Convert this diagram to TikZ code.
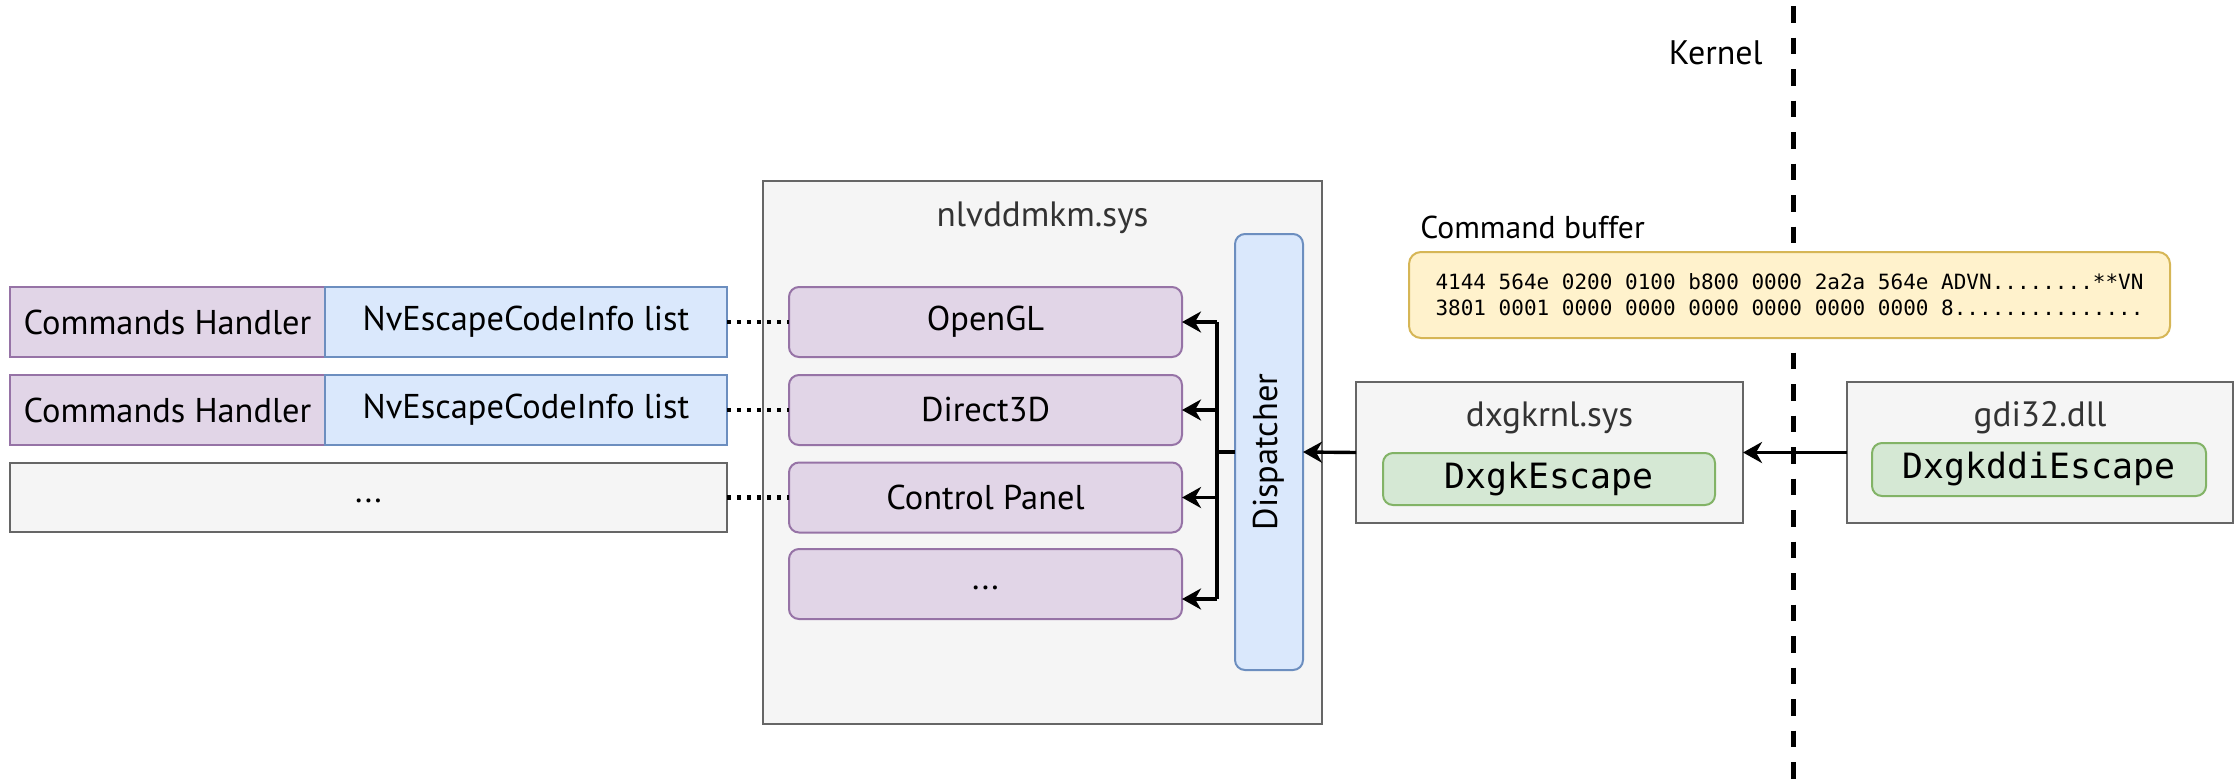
\documentclass[tikz,border=0pt]{standalone}
\usepackage{fontspec}
\setmainfont{PT Sans}
\newfontfamily\monofont{DejaVu Sans Mono}
\usetikzlibrary{arrows.meta}
\definecolor{grayfill}{HTML}{F5F5F5}
\definecolor{graydraw}{HTML}{666666}
\definecolor{purpfill}{HTML}{E1D5E7}
\definecolor{purpdraw}{HTML}{9673A6}
\definecolor{bluefill}{HTML}{DAE8FC}
\definecolor{bluedraw}{HTML}{6C8EBF}
\definecolor{greenfill}{HTML}{D5E8D4}
\definecolor{greendraw}{HTML}{82B366}
\definecolor{yelfill}{HTML}{FFF2CC}
\definecolor{yeldraw}{HTML}{D6B656}
\definecolor{titlecol}{HTML}{333333}
\tikzset{
  px/.style={x=0.5pt,y=-0.5pt},
  base/.style={inner sep=0pt, outer sep=0pt, line width=1pt, font=\fontsize{17.2}{21}\selectfont},
  dotstext/.style={text height=5pt, text depth=0pt},
  graybox/.style={base, draw=graydraw, fill=grayfill, text=titlecol},
  purpbox/.style={base, draw=purpdraw, fill=purpfill},
  purpround/.style={purpbox, rounded corners=5pt},
  bluebox/.style={base, draw=bluedraw, fill=bluefill},
  blueround/.style={bluebox, rounded corners=5pt},
  greenround/.style={base, draw=greendraw, fill=greenfill, rounded corners=5pt, font=\monofont\fontsize{17.4}{20}\selectfont},
  yelround/.style={base, draw=yeldraw, fill=yelfill, rounded corners=6pt},
  titletext/.style={inner sep=0pt, text=titlecol, font=\fontsize{17.6}{21}\selectfont},
  plaintext/.style={inner sep=0pt, font=\fontsize{17.2}{21}\selectfont},
  dotline/.style={line width=2.2pt, dash pattern=on 2pt off 3pt},
  arr/.style={line width=1.7pt, -{Stealth[length=9.5pt,width=10.5pt,inset=3pt]}},
  kernline/.style={line width=2.5pt, dash pattern=on 8.25pt off 7.5pt}
}
\begin{document}
\begin{tikzpicture}[px]
\useasboundingbox (0,0) rectangle (2236,782);
% kernel boundary (drawn first, boxes cover it)
\coordinate (ktop) at (1793,6);
\coordinate (kbot) at (1793,782);
\draw[kernline] (ktop) -- (kbot);
\node[plaintext, anchor=east, font=\fontsize{17}{21}\selectfont] (kl) at (1763,53) {Kernel};
% left rows
\node[purpbox, minimum width=157.5pt, minimum height=35pt] (ch1) at (167.5,322) {Commands Handler};
\node[bluebox, minimum width=201pt, minimum height=35pt] (nv1) at (526,322) {NvEscapeCodeInfo list};
\node[purpbox, minimum width=157.5pt, minimum height=35pt] (ch2) at (167.5,410) {Commands Handler};
\node[bluebox, minimum width=201pt, minimum height=35pt] (nv2) at (526,410) {NvEscapeCodeInfo list};
\node[graybox, dotstext, text=black, minimum width=358.5pt, minimum height=34.5pt] (row3) at (368.5,497.5) {...};
% container
\node[graybox, minimum width=279.5pt, minimum height=271.5pt] (nl) at (1042.5,452.5) {};
\node[titletext] (nlt) at (1042.5,218) {nlvddmkm.sys};
\node[purpround, minimum width=196.5pt, minimum height=35pt] (ogl) at (985.5,322) {OpenGL};
\node[purpround, minimum width=196.5pt, minimum height=35pt] (d3d) at (985.5,410) {Direct3D};
\node[purpround, minimum width=196.5pt, minimum height=35pt] (cp) at (985.5,497.5) {Control Panel};
\node[purpround, dotstext, minimum width=196.5pt, minimum height=35pt] (mdots) at (985.5,584) {...};
\node[blueround, minimum width=34pt, minimum height=218pt] (disp) at (1269,452) {};
\node[plaintext, rotate=90] (dispt) at (disp.center) {Dispatcher};
% dxgkrnl
\node[graybox, minimum width=193.5pt, minimum height=70.5pt] (dx) at (1549.5,452.5) {};
\node[titletext] (dxt) at (1549.5,418) {dxgkrnl.sys};
\node[greenround, minimum width=166pt, minimum height=26pt] (dxe) at (1549,479) {DxgkEscape};
% gdi32
\node[graybox, minimum width=193pt, minimum height=70.5pt] (gdi) at (2040,452.5) {};
\node[titletext] (gdit) at (2040,418) {gdi32.dll};
\node[greenround, minimum width=167pt, minimum height=26.5pt] (gdie) at (2039,469.5) {DxgkddiEscape};
% command buffer
\node[plaintext, anchor=west, font=\fontsize{15.8}{19}\selectfont] (cbt) at (1420,227) {Command buffer};
\node[yelround, minimum width=380.5pt, minimum height=43pt] (cb) at (1789.5,295) {};
\node[inner sep=0pt, align=left, font=\monofont\fontsize{10.5}{13}\selectfont] (cbtext) at (cb.center) {4144 564e 0200 0100 b800 0000 2a2a 564e ADVN........**VN\\3801 0001 0000 0000 0000 0000 0000 0000 8...............};
% connectors
\draw[arr] (gdi.west) -- (dx.east);
\draw[arr] (dx.west) -- (disp.east);
\coordinate (bus) at (1217,452);
\draw[line width=1.7pt] (disp.west) -- (bus);
\draw[line width=1.7pt] (1217,322) -- (1217,599);
\draw[arr] (1217,322) -- (ogl.east);
\draw[arr] (1217,410) -- (d3d.east);
\draw[arr] (1217,497.5) -- (cp.east);
\draw[arr] (1217,599) -- (mdots.east |- 0,599);
\draw[dotline] (nv1.east) -- (ogl.west);
\draw[dotline] (nv2.east) -- (d3d.west);
\draw[dotline] (row3.east) -- (cp.west);
\end{tikzpicture}
\end{document}
